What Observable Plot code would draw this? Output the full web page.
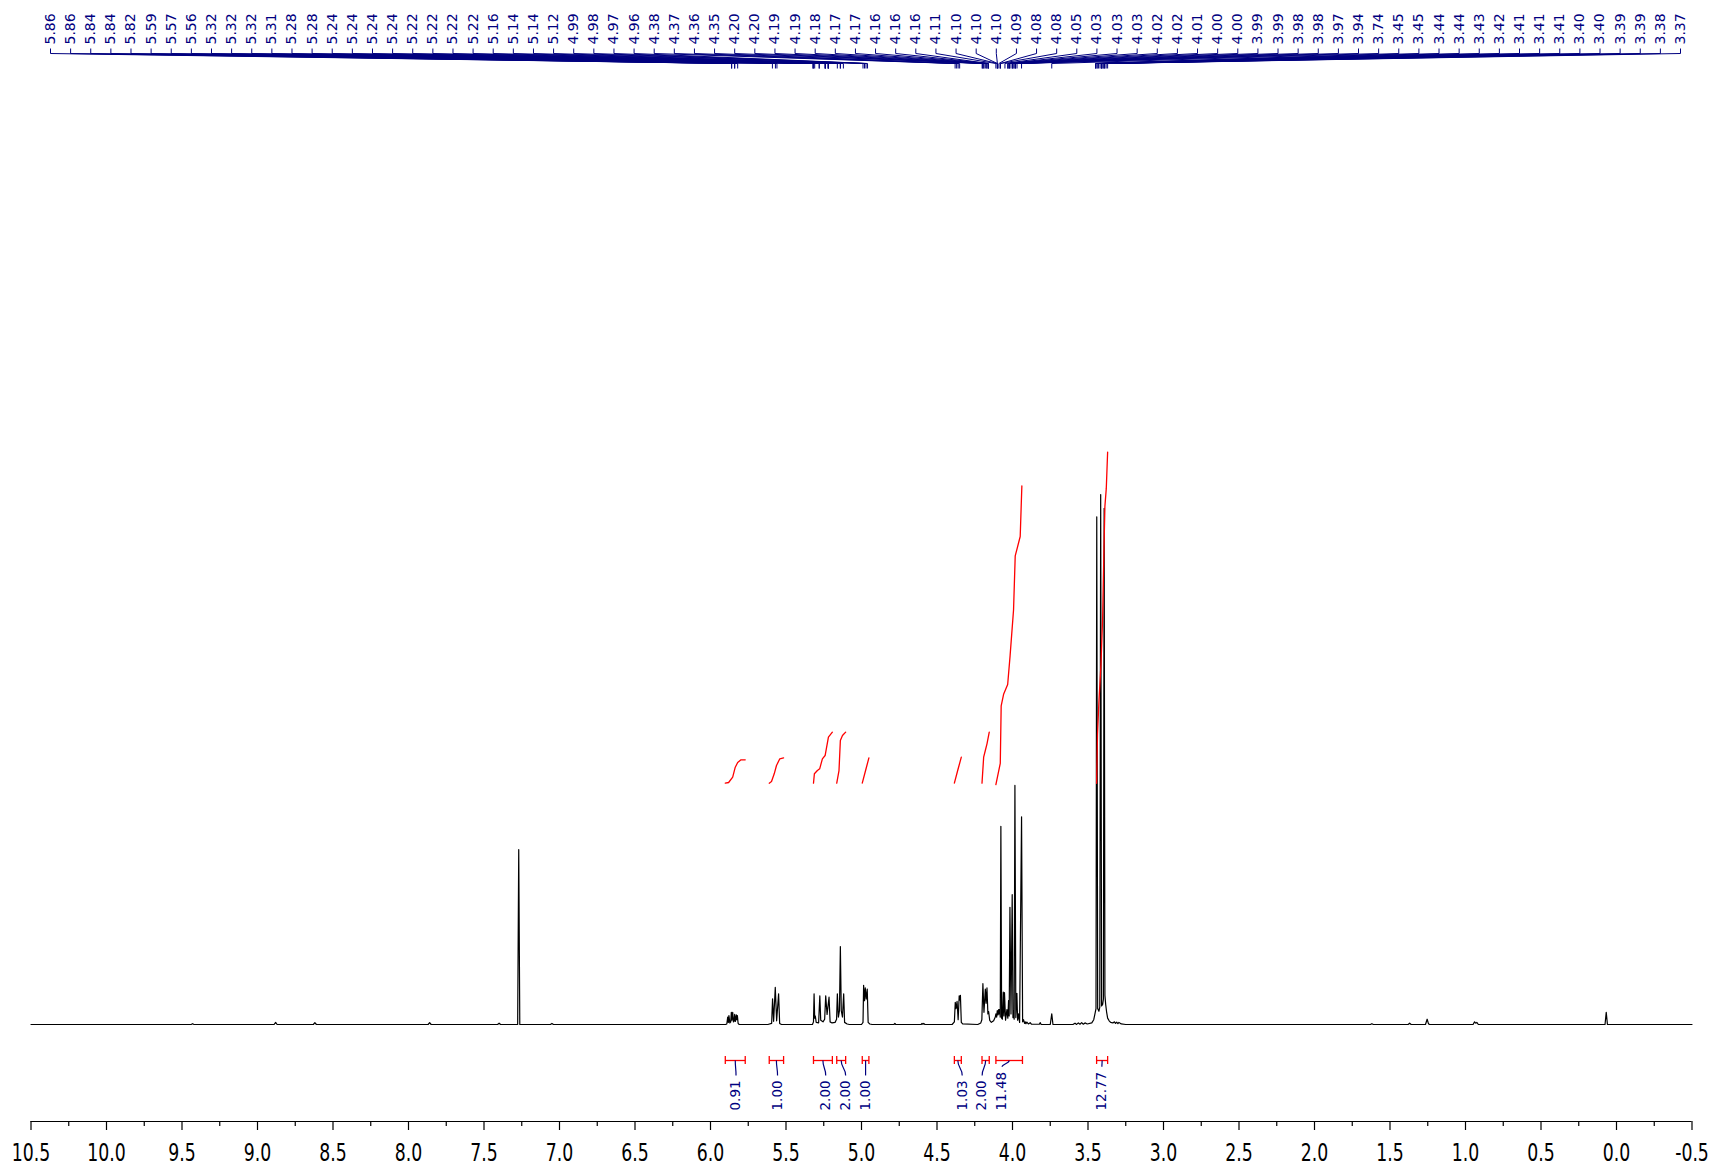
<!DOCTYPE html>
<html>
<head>
<meta charset="utf-8">
<script src="https://cdn.jsdelivr.net/npm/d3@7"></script>
<script src="https://cdn.jsdelivr.net/npm/@observablehq/plot@0.6"></script>
<style>
  html, body { margin: 0; padding: 0; background: #fff; overflow: hidden; }
  svg { overflow: hidden !important; display: block; }
</style>
</head>
<body>
<div id="chart"></div>
<script>
// ---------------- DATA ----------------
// peak-pick labels (ppm), as printed across the top
const peakLabels = [5.86,5.86,5.84,5.84,5.82,5.59,5.57,5.56,5.32,5.32,5.32,5.31,5.28,5.28,
  5.24,5.24,5.24,5.24,5.22,5.22,5.22,5.22,5.16,5.14,5.14,5.12,4.99,4.98,4.97,4.96,
  4.38,4.37,4.36,4.35,4.20,4.20,4.19,4.19,4.18,4.17,4.17,4.16,4.16,4.16,4.11,4.10,4.10,4.10,
  4.09,4.08,4.08,4.05,4.03,4.03,4.03,4.02,4.02,4.01,4.00,4.00,3.99,3.99,3.98,3.98,3.97,3.94,
  3.74,3.45,3.45,3.44,3.44,3.43,3.42,3.41,3.41,3.41,3.40,3.40,3.39,3.39,3.38,3.37];

// spectrum segments: [ppm, intensity] (100 = tallest line)
const segLowField = [[10.5,0],[9.44,0],[9.43,0.15],[9.42,0],[8.89,0],[8.88,0.4],[8.87,0],[8.63,0],[8.62,0.35],[8.61,0],
  [7.87,0],[7.86,0.35],[7.85,0],[7.41,0],[7.40,0.25],[7.39,0],[7.277,0],[7.27,33],[7.263,0],[7.06,0],[7.05,0.2],[7.04,0],[5.90,0]];
const seg586 = [[5.892,0.1],[5.886,1.4],[5.882,0.4],[5.878,1.7],[5.872,0.3],[5.866,0.5],[5.862,2.3],[5.858,0.8],[5.853,2.3],
  [5.848,0.5],[5.844,0.6],[5.840,1.9],[5.835,0.6],[5.829,1.8],[5.826,0.9],[5.822,1.7],[5.817,0.2],[5.81,0]];
const seg557 = [[5.62,0],[5.595,0.2],[5.589,4.85],[5.582,0.6],[5.571,7.0],[5.562,0.7],[5.549,5.8],[5.542,0.2],[5.53,0],[5.325,0]];
const seg527 = [[5.318,0.5],[5.314,5.8],[5.31,1.2],[5.306,1.6],[5.30,0.4],[5.284,0.3],[5.276,5.4],[5.27,0.8],[5.255,0.5],
  [5.244,1.0],[5.237,5.4],[5.228,1.9],[5.215,5.15],[5.208,0.5],[5.195,0.3],[5.175,0.4]];
const seg514 = [[5.165,1.0],[5.16,5.8],[5.153,1.4],[5.146,2.6],[5.14,14.7],[5.134,2.6],[5.126,1.4],[5.118,5.8],[5.112,0.4],
  [5.095,0.1],[5.08,0],[5.0,0]];
const seg498 = [[4.99,0.4],[4.986,7.4],[4.98,4.5],[4.975,6.9],[4.969,4.8],[4.962,6.7],[4.956,0.4],[4.945,0.1],[4.93,0],
  [4.785,0],[4.779,0.2],[4.773,0],[4.605,0],[4.599,0.2],[4.594,0.05],[4.588,0.2],[4.58,0],[4.40,0]];
const seg437 = [[4.385,0.5],[4.379,4.2],[4.374,3.0],[4.367,4.35],[4.36,0.9],[4.353,5.4],[4.349,4.6],[4.345,5.5],[4.339,0.4],
  [4.33,0.1],[4.23,0]];
const seg419 = [[4.21,0.3],[4.203,0.9],[4.196,7.7],[4.189,2.3],[4.18,6.7],[4.175,4.0],[4.169,6.9],[4.163,2.0],[4.158,2.45],
  [4.151,0.8],[4.14,0.4],[4.13,0.6]];
const seg402 = [[4.125,0.7],[4.114,1.4],[4.11,2.0],[4.105,1.4],[4.101,2.6],[4.096,1.8],[4.092,2.8],[4.089,2.0],[4.086,2.8],
  [4.081,1.4],[4.077,37.4],[4.072,1.2],[4.067,1.0],[4.061,6.1],[4.057,1.6],[4.053,6.0],[4.046,0.8],[4.037,2.8],[4.031,1.2],
  [4.026,4.5],[4.022,1.6],[4.017,22.1],[4.01,2.0],[4.002,24.5],[3.997,1.3],[3.993,2.5],[3.989,1.0],[3.984,45.1],[3.978,1.3],
  [3.971,5.9],[3.966,0.8],[3.96,2.0],[3.953,0.4],[3.94,39.2],[3.933,0.5],[3.927,0.9],[3.92,0.2],[3.916,0.5],[3.911,0.15],
  [3.905,0.45],[3.895,0.1],[3.883,0.35],[3.875,0.05],[3.822,0.05],[3.817,0.35],[3.81,0]];
const seg341 = [[3.75,0],[3.74,2.0],[3.732,0],[3.60,0],[3.586,0.25],[3.575,0.02],[3.564,0.3],[3.553,0.05],[3.542,0.35],
  [3.531,0.05],[3.52,0.3],[3.505,0.1],[3.475,0.3],[3.462,0.9],[3.452,2.3],[3.447,3.0],[3.442,95.8],[3.436,3.0],[3.428,2.5],
  [3.422,3.3],[3.416,100],[3.41,3.5],[3.403,3.8],[3.398,4.8],[3.393,97.4],[3.388,5.5],[3.383,3.8],[3.377,2.4],[3.37,1.2],
  [3.36,0.7],[3.35,0.4],[3.335,0.3],[3.325,0.5],[3.318,0.2],[3.31,0.45],[3.302,0.15],[3.295,0.4],[3.28,0.1],[3.25,0]];
const segHighField = [[1.63,0],[1.62,0.15],[1.61,0],[1.38,0],[1.37,0.25],[1.36,0],[1.265,0],[1.254,1.0],[1.246,0.2],[1.24,0],
  [0.95,0],[0.94,0.5],[0.932,0.25],[0.925,0.4],[0.915,0],[0.076,0],[0.068,2.3],[0.06,0],[-0.5,0]];

// integrals
const integralValues = ["0.91","1.00","2.00","2.00","1.00","1.03","2.00","11.48","12.77"];
const integralFrom   = [5.902, 5.611, 5.318, 5.164, 4.995, 4.385, 4.202, 4.110, 3.443];
const integralTo     = [5.770, 5.516, 5.193, 5.105, 4.951, 4.339, 4.154, 3.934, 3.370];
const integralLabelAt= [5.831, 5.556, 5.237, 5.105, 4.973, 4.333, 4.201, 4.069, 3.408];
const integralCurves = [
  [[5.902,45.53],[5.880,45.66],[5.853,46.67],[5.836,48.55],[5.820,49.43],[5.798,49.94],[5.770,49.94]],
  [[5.611,45.53],[5.596,45.85],[5.578,47.30],[5.563,48.87],[5.541,50.13],[5.516,50.31]],
  [[5.318,45.53],[5.312,47.30],[5.292,47.92],[5.277,48.24],[5.259,50.13],[5.241,50.75],[5.219,54.21],[5.193,55.16]],
  [[5.164,45.53],[5.149,47.92],[5.140,53.58],[5.126,54.53],[5.105,55.16]],
  [[4.995,45.53],[4.973,47.92],[4.951,50.31]],
  [[4.385,45.53],[4.363,47.92],[4.339,50.44]],
  [[4.202,45.53],[4.191,50.44],[4.180,51.70],[4.169,52.96],[4.154,55.16]],
  [[4.110,45.25],[4.081,49.25],[4.075,60.11],[4.059,62.30],[4.032,64.15],[4.016,69.55],[3.993,78.26],[3.982,88.42],[3.949,92.08],[3.938,101.62]],
  [[3.443,45.5],[3.437,54.8],[3.428,60.7],[3.414,68.0],[3.403,76.8],[3.394,90.1],[3.388,97.8],[3.379,101.1],[3.370,108.0]]
];

// axis ticks
const majorTicks = d3.range(0, 23).map(i => 10.5 - i * 0.5);
const minorTicks = d3.range(0, 22).map(i => 10.25 - i * 0.5);

// ---------------- LAYOUT ----------------
const W = 1712, H = 1166;
const X0 = 30.5, X1 = 1691.5;          // pixel range of the ppm axis
const BASE = 1024, UNIT = 5.3;         // baseline pixel, px per intensity unit
const u = px => (BASE - px) / UNIT;    // pixel row -> y units
const pxToPpm = px => 10.5 - (px - X0) * 11 / (X1 - X0);
const NAVY = "#00007f", RED = "#ff0000";

const spectrum = [segLowField, seg586, seg557, seg527, seg514, seg498, seg437, seg419, seg402, seg341, segHighField].flat();

const labelStartPx = 50, labelEndPx = 1680;
const peaks = peakLabels.map((p, i) => ({
  ppm: p,
  text: p.toFixed(2),
  lx: pxToPpm(labelStartPx + i * (labelEndPx - labelStartPx) / (peakLabels.length - 1))
}));

const integrals = integralValues.map((v, i) => {
  const fs = 13.5;
  const len = fs * (0.636 * (v.length - 1) + 0.318);
  return {
    value: v, from: integralFrom[i], to: integralTo[i],
    center: (integralFrom[i] + integralTo[i]) / 2, label: integralLabelAt[i],
    end: u(1110 - len - 5)
  };
});
const intRows = integralCurves.flatMap((c, k) => c.map(([x, y]) => ({x, y, k})));
const capRows = integrals.flatMap(d => [d.from, d.to]);

const yBracket = u(1060), yLabelBottom = u(1110);

const plot = Plot.plot({
  width: W, height: H,
  marginTop: 0, marginBottom: H - 1121, marginLeft: X0, marginRight: W - X1,
  x: {domain: [10.5, -0.5], range: [X0, X1]},
  y: {domain: [u(H), u(0)], range: [H, 0], axis: null},
  style: {background: "white", fontFamily: "DejaVu Sans, Verdana, sans-serif", color: "black"},
  marks: [
    // x axis
    Plot.ruleY([u(1121)], {stroke: "black", strokeWidth: 1.2}),
    Plot.axisX({ticks: minorTicks, tickSize: 5, tickFormat: () => "", strokeWidth: 1.2, label: null}),
    Plot.axisX({ticks: majorTicks, tickSize: 9, tickPadding: 13, tickFormat: d => d.toFixed(1),
      fontSize: 24, strokeWidth: 1.2, label: null}),
    // spectrum
    Plot.line(spectrum, {x: d => d[0], y: d => d[1], stroke: "#000", strokeWidth: 1.2}),
    // integral curves
    Plot.line(intRows, {x: "x", y: "y", z: "k", stroke: RED, strokeWidth: 1.3}),
    // integral brackets
    Plot.link(integrals, {x1: "from", x2: "to", y1: () => yBracket, y2: () => yBracket, stroke: RED, strokeWidth: 1.3}),
    Plot.ruleX(capRows, {x: d => d, y1: () => u(1056), y2: () => u(1064), stroke: RED, strokeWidth: 1.3}),
    Plot.link(integrals, {x1: "center", y1: () => yBracket, x2: "label", y2: "end", curve: "bump-y", stroke: NAVY, strokeWidth: 1.2}),
    Plot.text(integrals, {x: "label", y: () => yLabelBottom, text: "value", rotate: -90, textAnchor: "start",
      lineAnchor: "middle", fontSize: 13.5, fill: NAVY}),
    // peak-pick labels at top
    Plot.link(peaks, {x1: "lx", x2: "lx", y1: () => u(48), y2: () => u(53), stroke: NAVY, strokeWidth: 1}),
    Plot.link(peaks, {x1: "lx", y1: () => u(53), x2: "ppm", y2: () => u(63), stroke: NAVY, strokeWidth: 1}),
    Plot.link(peaks, {x1: "ppm", x2: "ppm", y1: () => u(63), y2: () => u(68), stroke: NAVY, strokeWidth: 1}),
    Plot.text(peaks, {x: "lx", y: () => u(44), text: "text", rotate: -90, textAnchor: "start",
      lineAnchor: "middle", fontSize: 14, fill: NAVY})
  ]
});

document.getElementById("chart").append(plot);
// condensed look of the axis numerals
plot.querySelectorAll('g[aria-label="x-axis tick label"] text').forEach(t => {
  const w = t.getComputedTextLength();
  if (w > 0) {
    t.setAttribute("textLength", (w * 0.72).toFixed(1));
    t.setAttribute("lengthAdjust", "spacingAndGlyphs");
  }
});
</script>
</body>
</html>
